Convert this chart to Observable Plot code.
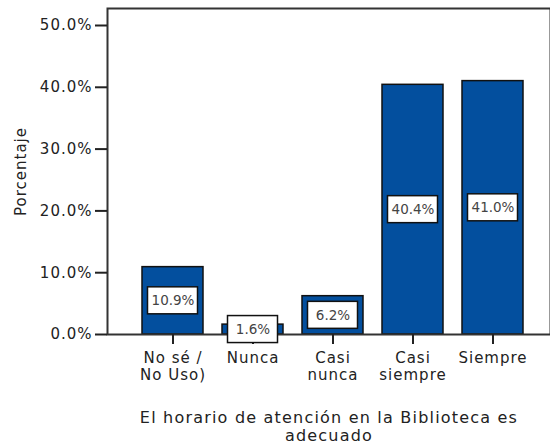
<!DOCTYPE html>
<html>
<head>
<meta charset="utf-8">
<script src="https://cdn.jsdelivr.net/npm/d3@7"></script>
<script src="https://cdn.jsdelivr.net/npm/@observablehq/plot@0.6"></script>
<style>
  body { margin: 0; background: #fff; }
</style>
</head>
<body>
<div id="chart"></div>
<script>
const categories = ["No sé /\nNo Uso)", "Nunca", "Casi\nnunca", "Casi\nsiempre", "Siempre"];
const values = [10.9, 1.6, 6.2, 40.4, 41.0];
const valueLabels = ["10.9%", "1.6%", "6.2%", "40.4%", "41.0%"];
const yTicks = [0, 10, 20, 30, 40, 50];
const yLabel = "Porcentaje";
const xTitle = "El horario de atención en la Biblioteca es\nadecuado";

const data = categories.map((c, i) => ({cat: c, value: values[i], label: valueLabels[i]}));

const chart = Plot.plot({
  width: 550,
  height: 446,
  marginTop: 8,
  marginBottom: 112,
  marginLeft: 107,
  marginRight: 0,
  style: {fontFamily: "DejaVu Sans", background: "#fff", color: "#222"},
  x: {domain: categories, range: [107, 559], paddingInner: 0.235, paddingOuter: 0.408, align: 0.5, label: null},
  y: {domain: [0, 52.75], label: null},
  marks: [
    Plot.barY(data, {x: "cat", y: "value", fill: "#034f9e", stroke: "#111", strokeWidth: 1.5}),
    Plot.frame({stroke: "#333", strokeWidth: 2}),
    Plot.axisY({ticks: yTicks, tickFormat: d => d.toFixed(1) + "%", tickSize: 12, tickPadding: 3, fontSize: 15, label: null, strokeWidth: 2, color: "#222"}),
    Plot.axisX({tickSize: 10, tickPadding: 7, fontSize: 15, lineHeight: 1.12, label: null, strokeWidth: 2, color: "#222"}),
    Plot.barY(data, {x: "cat", y1: d => d.value / 2, y2: d => d.value / 2, insetTop: -13.5, insetBottom: -13.5, insetLeft: 5.5, insetRight: 5.5, fill: "white", stroke: "#111", strokeWidth: 1.5}),
    Plot.text(data, {x: "cat", y: d => d.value / 2, text: "label", fontSize: 13.5, fill: "#444"}),
    Plot.text([yLabel], {text: d => d, frameAnchor: "left", textAnchor: "middle", rotate: -90, dx: -86, fontSize: 15, fill: "#222"}),
    Plot.text([xTitle], {text: d => d, frameAnchor: "bottom", lineAnchor: "top", dy: 76, fontSize: 16, lineHeight: 1.125, fill: "#222"})
  ]
});
chart.querySelectorAll('g[aria-label="y-axis tick label"], g[aria-label="x-axis tick label"]').forEach(g => g.style.letterSpacing = "1px");
const textGroups = chart.querySelectorAll('g[aria-label="text"]');
if (textGroups.length >= 3) {
  textGroups[1].style.letterSpacing = "1px";
  textGroups[2].style.letterSpacing = "1.2px";
}
document.getElementById("chart").append(chart);
</script>
</body>
</html>
